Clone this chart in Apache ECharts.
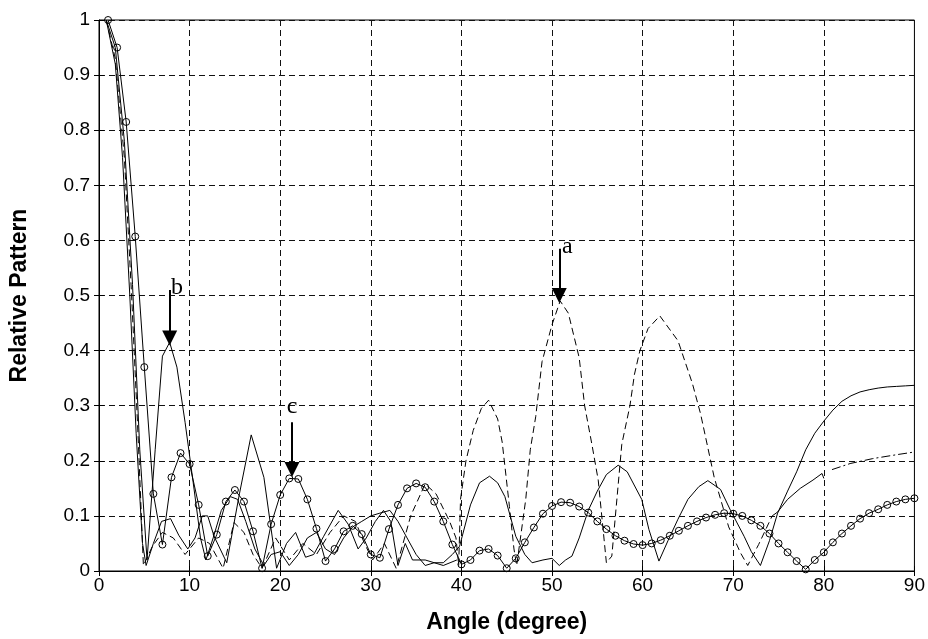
<!DOCTYPE html>
<html>
<head>
<meta charset="utf-8">
<script src="https://cdn.jsdelivr.net/npm/echarts@6/dist/echarts.min.js"></script>
<style>
  html, body { margin: 0; padding: 0; background: #fff; }
  #chart { width: 928px; height: 639px; }
</style>
</head>
<body>
<div id="chart"></div>
<script>
// 刻度
const xTicks = [0, 10, 20, 30, 40, 50, 60, 70, 80, 90];
const yTicks = [0, 0.1, 0.2, 0.3, 0.4, 0.5, 0.6, 0.7, 0.8, 0.9, 1];

// 圆圈标记曲线
const cAngle = [1, 2, 3, 4, 5, 6, 7, 8, 9, 10,
  11, 12, 13, 14, 15, 16, 17, 18, 19, 20,
  21, 22, 23, 24, 25, 26, 27, 28, 29, 30,
  31, 32, 33, 34, 35, 36, 37, 38, 39, 40,
  41, 42, 43, 44, 45, 46, 47, 48, 49, 50,
  51, 52, 53, 54, 55, 56, 57, 58, 59, 60,
  61, 62, 63, 64, 65, 66, 67, 68, 69, 70,
  71, 72, 73, 74, 75, 76, 77, 78, 79, 80,
  81, 82, 83, 84, 85, 86, 87, 88, 89, 90];
const cValue = [1.0, 0.95, 0.815, 0.607, 0.37, 0.14, 0.048, 0.17, 0.214, 0.194,
  0.12, 0.027, 0.066, 0.126, 0.147, 0.126, 0.072, 0.005, 0.085, 0.138,
  0.168, 0.167, 0.13, 0.077, 0.018, 0.04, 0.072, 0.082, 0.067, 0.03,
  0.024, 0.076, 0.12, 0.15, 0.159, 0.152, 0.126, 0.09, 0.048, 0.012,
  0.02, 0.037, 0.04, 0.028, 0.005, 0.023, 0.052, 0.079, 0.104, 0.118,
  0.125, 0.124, 0.117, 0.106, 0.09, 0.076, 0.064, 0.055, 0.049, 0.047,
  0.05, 0.056, 0.064, 0.073, 0.082, 0.09, 0.097, 0.102, 0.105, 0.104,
  0.1, 0.092, 0.082, 0.068, 0.05, 0.034, 0.018, 0.003, 0.02, 0.034,
  0.052, 0.068, 0.082, 0.095, 0.105, 0.112, 0.12, 0.126, 0.13, 0.132];

// 实线 (b)
const bAngle = [0.8, 1.8, 2.8, 3.7, 4.5, 5.3, 6.2, 7, 7.8, 8.6, 9.5, 10.4, 11.2, 11.8, 12.6, 13.5, 14.5, 15.3, 16.2, 17.2,
  18.2, 19, 20, 21, 22, 23, 24, 25, 26, 27, 28, 29, 30, 31, 32.1, 33, 34, 35, 36, 37,
  38, 39, 39.8, 41, 42, 43.1, 44, 44.8, 46, 47, 47.8, 49, 50, 50.8, 51.5, 52.2, 53, 54, 55, 56,
  57.3, 58.3, 59.9, 60.7, 61.8, 62.8, 63.9, 65, 66.2, 67.2, 68.6, 69.7, 71.2, 72, 73, 74, 74.9, 76, 77, 78,
  79, 80, 81, 82, 83, 84, 85, 86, 87, 88, 89, 90];
const bValue = [1, 0.95, 0.78, 0.52, 0.22, 0.02, 0.22, 0.39, 0.415, 0.37, 0.27, 0.16, 0.06, 0.02, 0.06, 0.11, 0.135, 0.13, 0.09, 0.04,
  0.01, 0.03, 0.035, 0.01, 0.03, 0.06, 0.07, 0.04, 0.03, 0.06, 0.08, 0.09, 0.1, 0.105, 0.11, 0.09, 0.06, 0.03, 0.01, 0.015,
  0.015, 0.03, 0.045, 0.12, 0.16, 0.172, 0.16, 0.135, 0.063, 0.03, 0.015, 0.02, 0.023, 0.01, 0.02, 0.027, 0.06, 0.11, 0.145, 0.175,
  0.192, 0.18, 0.13, 0.075, 0.018, 0.055, 0.094, 0.13, 0.153, 0.164, 0.148, 0.11, 0.063, 0.035, 0.01, 0.055, 0.105, 0.145, 0.18, 0.22,
  0.25, 0.272, 0.292, 0.308, 0.318, 0.325, 0.329, 0.332, 0.334, 0.335, 0.336, 0.337];

// 实线 (低旁瓣)
const dAngle = [0.8, 1.8, 2.6, 3.4, 4.1, 4.8, 5.2, 6, 6.9, 7.9, 8.8, 9.8, 10.6, 11.4, 12, 12.7, 14.1, 15.5, 16.8, 18.2,
  19.6, 20.7, 21.7, 22.8, 23.7, 24.8, 26.4, 27.5, 28.6, 29.5, 30.5, 31.4, 32.2, 33, 33.8, 34.6, 36, 38, 39.5];
const dValue = [1, 0.92, 0.75, 0.5, 0.25, 0.05, 0.01, 0.05, 0.09, 0.095, 0.065, 0.04, 0.06, 0.1, 0.1, 0.063, 0.015, 0.14, 0.247, 0.17,
  0.005, 0.05, 0.07, 0.025, 0.03, 0.063, 0.11, 0.085, 0.04, 0.06, 0.09, 0.11, 0.09, 0.01, 0.05, 0.02, 0.02, 0.01, 0.02];

// 虚线 (a)
const aAngle = [0.8, 1.8, 2.8, 3.6, 4.3, 4.9, 5.9, 7, 8.2, 9.5, 11, 12.2, 13.7, 14.9, 16, 17, 18, 19.5, 21, 22.5,
  24, 25.5, 27, 28.3, 29.3, 30.2, 31.5, 32.8, 34.4, 36, 37.2, 38.7, 39.4, 39.7, 39.9, 40.5, 41.3, 42.2, 43, 44,
  44.5, 45.3, 45.8, 46.1, 47.1, 47.6, 48.2, 48.9, 50, 50.9, 51.8, 53, 53.6, 54.4, 55.1, 56, 56.6, 57.7, 58.6, 59.1,
  59.7, 60.6, 61.9, 63.9, 65.5, 66.4, 67.9, 69.5, 70.8, 71.6, 72.8, 74.3];
const aValue = [1, 0.93, 0.75, 0.5, 0.25, 0.01, 0.045, 0.07, 0.06, 0.03, 0.06, 0.05, 0.005, 0.088, 0.07, 0.03, 0.005, 0.06, 0.02, 0.05,
  0.03, 0.07, 0.1, 0.09, 0.05, 0.02, 0.05, 0.005, 0.1, 0.158, 0.14, 0.09, 0.06, 0.01, 0.13, 0.2, 0.255, 0.295, 0.31, 0.276,
  0.234, 0.117, 0.04, 0.01, 0.13, 0.22, 0.28, 0.38, 0.447, 0.49, 0.468, 0.387, 0.3, 0.23, 0.165, 0.015, 0.027, 0.23, 0.3, 0.357,
  0.4, 0.44, 0.463, 0.418, 0.34, 0.285, 0.17, 0.08, 0.033, 0.01, 0.048, 0.1];

// 虚线尾段
const tailAngle = [74.3, 74.9, 76, 77.4, 78.8, 79.8, 80];
const tailValue = [0.1, 0.107, 0.13, 0.15, 0.165, 0.177, 0.168];
const dashDotAngle = [80.9, 82.9, 85.4, 88, 90];
const dashDotValue = [0.184, 0.195, 0.204, 0.211, 0.216];

// 标注 a b c
const noteText = ['a', 'b', 'c'];
const noteX = [50.8, 7.8, 21.3];
const noteFrom = [0.585, 0.51, 0.27];
const noteTo = [0.5, 0.423, 0.184];
const letterX = [51.7, 8.6, 21.3];
const letterY = [0.588, 0.514, 0.298];

function pairs(xs, ys) {
  return xs.map((x, i) => [x, ys[i]]);
}

const tickFont = 'Liberation Sans, Arial, sans-serif';
const thin = { color: '#000', width: 1 };
const gridLine = { color: '#111', type: [6, 4], width: 1 };

var option = {
  animation: false,
  backgroundColor: '#fff',
  grid: {
    left: 94, right: 13, top: 20, bottom: 64,
    show: true, borderColor: '#000', borderWidth: 1
  },
  xAxis: [{
    type: 'value', min: 0, max: 90, interval: 10,
    name: 'Angle (degree)', nameLocation: 'middle', nameGap: 40,
    nameTextStyle: { fontFamily: 'Liberation Sans, Arial', fontWeight: 'bold', fontSize: 23, color: '#000' },
    axisLine: { lineStyle: { color: '#000' } },
    axisTick: { inside: true, length: 5, lineStyle: { color: '#000' } },
    axisLabel: { color: '#000', fontFamily: tickFont, fontSize: 19, margin: 5 },
    splitLine: { show: true, lineStyle: gridLine }
  }, {
    type: 'value', min: 0, max: 90, interval: 10, position: 'top',
    axisLine: { show: false }, axisLabel: { show: false }, splitLine: { show: false },
    axisTick: { inside: true, length: 5, lineStyle: { color: '#000' } }
  }],
  yAxis: [{
    type: 'value', min: 0, max: 1, interval: 0.1,
    name: 'Relative Pattern', nameLocation: 'middle', nameGap: 68, nameRotate: 90,
    nameTextStyle: { fontFamily: 'Liberation Sans, Arial', fontWeight: 'bold', fontSize: 23, color: '#000' },
    axisLine: { show: true, lineStyle: { color: '#000' } },
    axisTick: { show: true, inside: true, length: 5, lineStyle: { color: '#000' } },
    axisLabel: { color: '#000', fontFamily: tickFont, fontSize: 19, margin: 9,
      formatter: v => String(Math.round(v * 10) / 10) },
    splitLine: { show: true, lineStyle: gridLine }
  }, {
    type: 'value', min: 0, max: 1, interval: 0.1, position: 'right',
    axisLine: { show: false }, axisLabel: { show: false }, splitLine: { show: false },
    axisTick: { show: true, inside: true, length: 5, lineStyle: { color: '#000' } }
  }],
  series: [
    {
      name: 'dashed', type: 'line', data: pairs(aAngle, aValue), symbol: 'none',
      lineStyle: { color: '#000', width: 1, type: [7, 4] }, z: 3
    },
    {
      name: 'tail', type: 'line', data: pairs(tailAngle, tailValue), symbol: 'none',
      lineStyle: thin, z: 3
    },
    {
      name: 'dashdot', type: 'line', data: pairs(dashDotAngle, dashDotValue), symbol: 'none',
      lineStyle: { color: '#000', width: 1, type: [9, 3, 2, 3] }, z: 3
    },
    {
      name: 'b', type: 'line', data: pairs(bAngle, bValue), symbol: 'none',
      lineStyle: thin, z: 3
    },
    {
      name: 'd', type: 'line', data: pairs(dAngle, dValue), symbol: 'none',
      lineStyle: thin, z: 3
    },
    {
      name: 'circle', type: 'line', data: pairs(cAngle, cValue),
      symbol: 'circle', symbolSize: 7, showAllSymbol: true,
      itemStyle: { color: 'rgba(255,255,255,0)', borderColor: '#000', borderWidth: 1 },
      lineStyle: thin, z: 4,
      markLine: {
        silent: true, animation: false,
        symbol: ['none', 'triangle'], symbolSize: [15, 15],
        lineStyle: { color: '#000', width: 2, type: 'solid' },
        label: { show: false },
        data: noteX.map((x, i) => [{ coord: [x, noteFrom[i]] }, { coord: [x, noteTo[i]] }])
      },
      markPoint: {
        silent: true, animation: false,
        symbol: 'circle', symbolSize: 1,
        itemStyle: { color: 'rgba(0,0,0,0)' },
        label: { show: true, position: 'inside', color: '#000', fontFamily: 'Liberation Serif, Times New Roman, serif', fontSize: 24 },
        data: noteText.map((t, i) => ({ coord: [letterX[i], letterY[i]], value: t, label: { formatter: t } }))
      }
    }
  ]
};

var chart = echarts.init(document.getElementById('chart'));
chart.setOption(option);
window.onresize = function () {
  chart.resize();
};
</script>
</body>
</html>
